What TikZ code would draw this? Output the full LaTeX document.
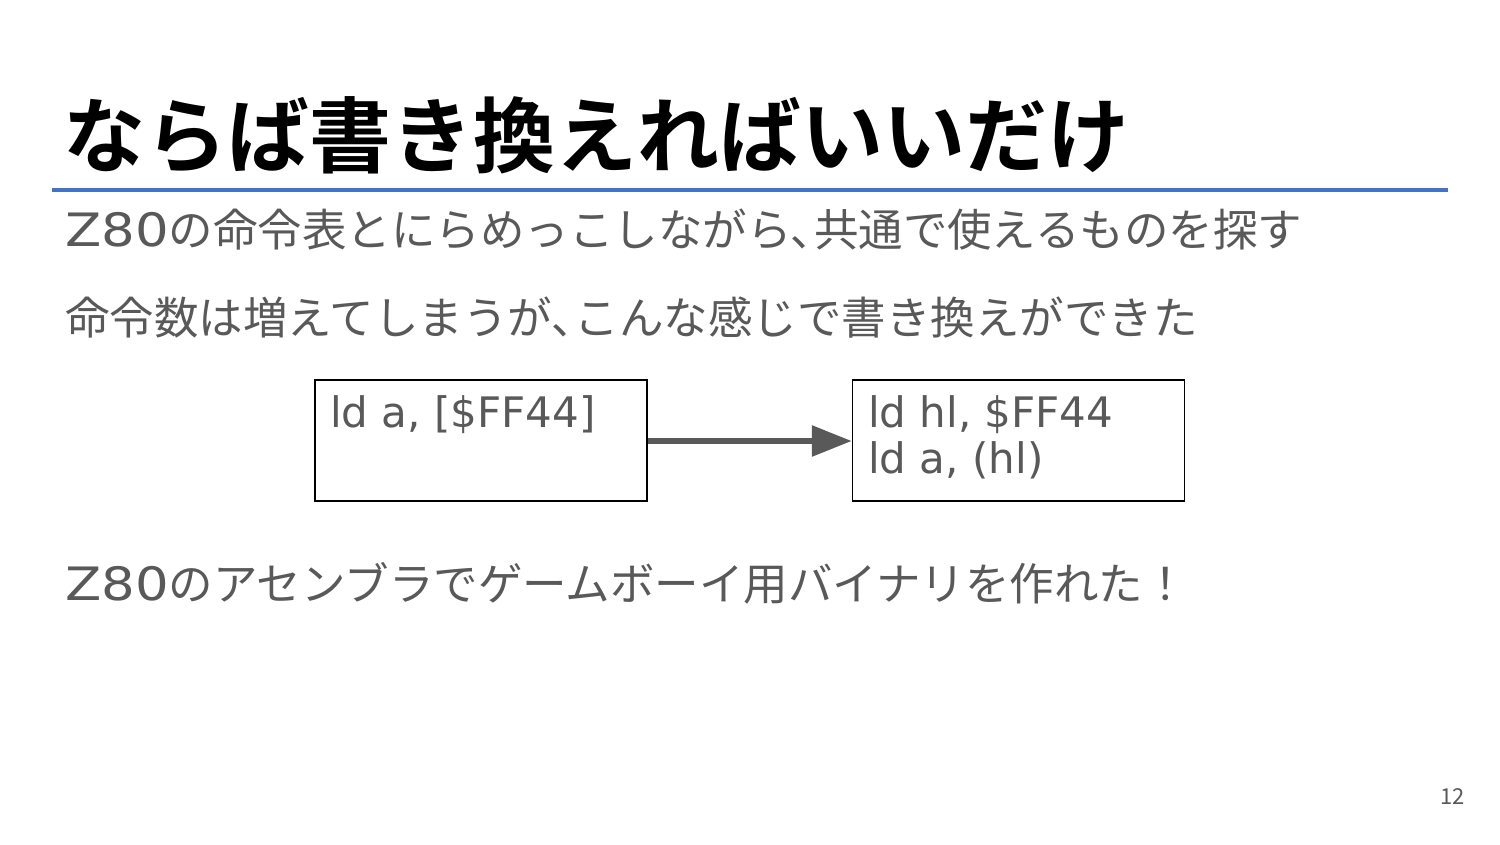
\documentclass[tikz,border=0pt]{standalone}
\usepackage{fontspec}
\usetikzlibrary{arrows.meta}
\newfontfamily\jp{Noto Sans CJK JP}
\newfontfamily\jpb{Noto Sans CJK JP Bold}
\newfontfamily\lat{DejaVu Sans}
\newfontfamily\latwide[FakeStretch=1.15]{DejaVu Sans}
\newcommand{\zeighty}{{\latwide\fontsize{46}{50}\selectfont Z80}}
\definecolor{txtgrey}{HTML}{595959}
\definecolor{lineblue}{HTML}{4472C4}
\begin{document}
\begin{tikzpicture}[x=1pt,y=-1pt,
  body/.style={anchor=west,inner sep=0pt,text=txtgrey,font=\jp\fontsize{44.5}{50}\selectfont},
  codebox/.style={draw=black,line width=1.5pt,minimum width=332pt,minimum height=121pt,inner sep=0pt},
  code/.style={anchor=west,inner sep=0pt,text=txtgrey,font=\lat\fontsize{42}{46}\selectfont}]
\useasboundingbox[fill=white] (0,0) rectangle (1500,844);
\node[anchor=west,inner sep=0pt,font=\jpb\fontsize{82}{90}\selectfont] (title) at (63,135) {ならば書き換えればいいだけ};
\draw[lineblue,line width=4pt] (52,190) coordinate (l1) -- (1448,190) coordinate (l2);
\node[body] (t1) at (65,230) {\zeighty の命令表とにらめっこしながら､共通で使えるものを探す};
\node[body] (t2) at (65,318) {命令数は増えてしまうが､こんな感じで書き換えができた};
\node[codebox] (b1) at (481,440.5) {};
\node[codebox] (b2) at (1018.5,440.5) {};
\node[code] (c1) at (330,415) {ld a, [\$FF44]};
\node[code] (c2) at (868,415) {ld hl, \$FF44};
\node[code] (c3) at (868,460) {ld a, (hl)};
\draw[txtgrey,line width=6pt,-{Triangle[length=40pt,width=30pt]}] (b1.east |- 0,441) -- (b2.west |- 0,441);
\node[body] (t3) at (65,583) {\zeighty のアセンブラでゲームボーイ用バイナリを作れた！};
\node[anchor=east,inner sep=0pt,text=txtgrey,font=\jp\fontsize{22}{26}\selectfont] (pg) at (1465,797) {12};
\end{tikzpicture}
\end{document}
